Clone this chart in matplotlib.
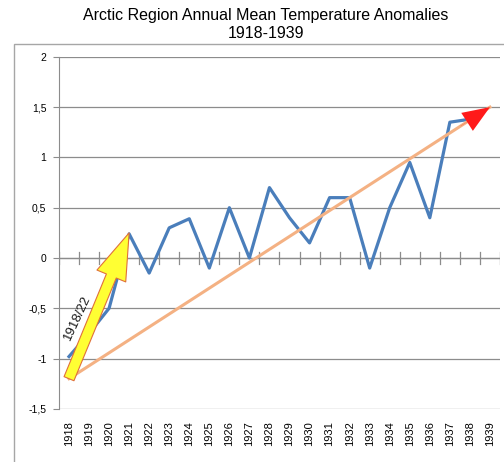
import matplotlib.pyplot as plt
import numpy as np
from matplotlib.patches import FancyArrowPatch, Rectangle
from matplotlib.ticker import FuncFormatter

plt.rcParams['font.family'] = ['Liberation Sans', 'DejaVu Sans']

years = list(range(1918, 1940))
# annual mean anomalies (1939 has no value)
anomaly = [-0.98, -0.75, -0.5, 0.24, -0.15, 0.3, 0.39, -0.1, 0.5, 0.0, 0.7,
           0.4, 0.15, 0.6, 0.6, -0.1, 0.5, 0.95, 0.4, 1.35, 1.38, np.nan]
trend_start = (1918, -1.2)
trend_end = (1939, 1.5)
jump_start = (1918, -1.2)
jump_end = (1921, 0.25)
jump_label = "1918/22"

fig = plt.figure(figsize=(5.04, 4.62), dpi=100)
ax = fig.add_axes([0.117, 0.115, 0.875, 0.762])

# chart border like the spreadsheet frame
fig.patches.append(Rectangle((14 / 504, -0.01), 1.0, 1 - 44 / 462 + 0.01,
                             transform=fig.transFigure, fill=False,
                             edgecolor='#a6a6a6', lw=1.0))

x = np.arange(len(years))
ax.set_xlim(-0.5, len(years) - 0.5)
ax.set_ylim(-1.5, 2)

ax.set_yticks(np.arange(-1.5, 2.01, 0.5))
ax.yaxis.set_major_formatter(FuncFormatter(
    lambda v, p: ('%g' % v).replace('.', ',')))
ax.grid(axis='y', color='#8c8c8c', lw=0.9)
ax.set_axisbelow(True)
ax.tick_params(axis='y', labelsize=7.5, length=4, color='#8c8c8c', pad=5)

ax.set_xticks(x)
ax.set_xticklabels([str(y) for y in years], rotation=90, fontsize=8)
ax.tick_params(axis='x', length=0, pad=9)

for s in ['top', 'right', 'bottom']:
    ax.spines[s].set_visible(False)
ax.spines['left'].set_color('#8c8c8c')

# category axis crossing at zero, with tick marks between categories
ax.axhline(0, color='#8c8c8c', lw=0.9, zorder=1)
for b in np.arange(-0.5, len(years), 1.0):
    ax.plot([b, b], [-0.055, 0.055], color='#8c8c8c', lw=0.9, zorder=1)

ax.plot(x, anomaly, color='#4a7ebb', lw=2.3, zorder=3)

# trend line with red head
xs = [years.index(trend_start[0]), years.index(trend_end[0])]
ax.plot(xs, [trend_start[1], trend_end[1]], color='#f4b183', lw=2.2, zorder=4)
fr = 0.93
hx = xs[0] + (xs[1] - xs[0]) * fr
hy = trend_start[1] + (trend_end[1] - trend_start[1]) * fr
ax.add_patch(FancyArrowPatch((hx, hy), (xs[1], trend_end[1]),
                             arrowstyle='simple,head_length=1.4,head_width=1.1,tail_width=0.01',
                             mutation_scale=14, color='#ff1a1a', lw=0, zorder=5,
                             shrinkA=0, shrinkB=0))

# big yellow arrow
ax.add_patch(FancyArrowPatch((years.index(jump_start[0]), jump_start[1]),
                             (years.index(jump_end[0]), jump_end[1]),
                             arrowstyle='simple,head_length=2.4,head_width=1.6,tail_width=0.55',
                             mutation_scale=14, facecolor='#ffff33',
                             edgecolor='#e0703a', lw=0.8, zorder=6,
                             shrinkA=0, shrinkB=0))
ax.text(0.42, -0.6, jump_label, rotation=65, fontsize=9.5, color='#1a1a1a',
        ha='center', va='center', zorder=7)

fig.suptitle('Arctic Region Annual Mean Temperature Anomalies\n1918-1939',
             fontsize=11.5, x=0.528, y=0.982, linespacing=1.25)

fig.savefig('out.png', dpi=100)
